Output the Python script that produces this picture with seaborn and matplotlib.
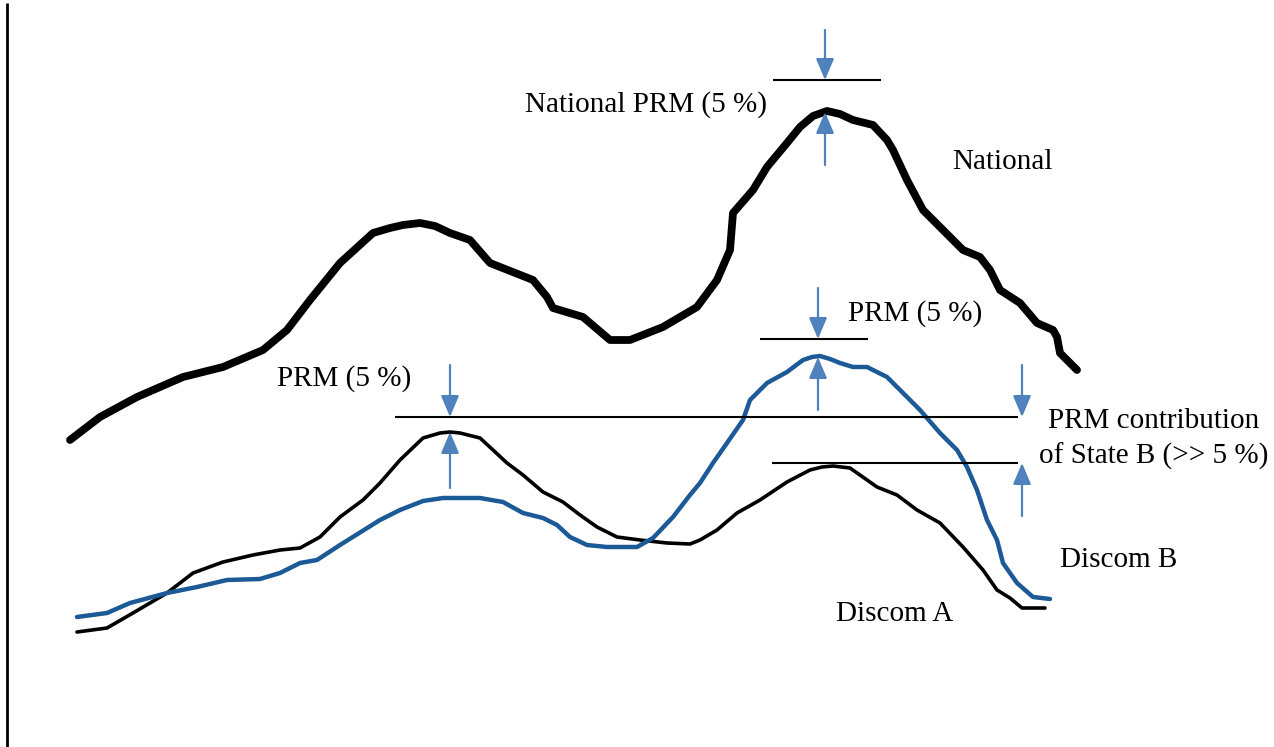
import numpy as np
import pandas as pd
import matplotlib
matplotlib.use('Agg')
import matplotlib.pyplot as plt
import seaborn as sns

# Schematic load curves (x = time, y = drawing height, top = 0)
national_x = [70, 100, 137, 183, 223, 263, 287, 310, 340, 373, 390, 403, 420, 435, 450, 470, 490,
              533, 547, 553, 583, 610, 630, 663, 697, 717, 730, 733, 753, 767, 787, 800, 813, 827,
              840, 853, 873, 887, 893, 907, 923, 943, 963, 980, 990, 1000, 1020, 1037, 1053, 1057,
              1060, 1070, 1077]
national_y = [440, 417, 397, 377, 367, 350, 330, 300, 263, 233, 228, 225, 223, 226, 233, 240, 263,
              280, 297, 308, 317, 340, 340, 327, 307, 280, 250, 213, 190, 167, 143, 127, 116, 111,
              114, 120, 125, 140, 150, 180, 210, 230, 250, 257, 270, 290, 303, 323, 330, 337,
              353, 363, 370]

discom_a_x = [77, 107, 133, 167, 193, 223, 253, 280, 300, 320, 340, 363, 380, 400, 423, 440, 450,
              460, 480, 493, 507, 523, 543, 563, 580, 597, 617, 640, 667, 690, 700, 717, 737, 760,
              787, 810, 822, 833, 850, 877, 897, 917, 940, 963, 983, 997, 1010, 1022, 1045]
discom_a_y = [632, 628, 613, 593, 573, 562, 555, 550, 548, 537, 517, 500, 483, 460, 438, 433, 432,
              433, 438, 450, 463, 475, 492, 502, 515, 527, 537, 540, 543, 544, 540, 530, 513, 500,
              482, 470, 467, 466, 468, 487, 495, 510, 523, 547, 570, 590, 598, 608, 608]

discom_b_x = [77, 107, 130, 167, 197, 227, 260, 280, 300, 317, 340, 380, 400, 423, 443, 480, 503,
              523, 543, 557, 570, 587, 607, 637, 653, 673, 690, 700, 713, 727, 743, 750, 767, 787,
              803, 812, 820, 830, 840, 853, 867, 887, 900, 920, 940, 957, 967, 977, 987, 997, 1003,
              1017, 1033, 1050]
discom_b_y = [617, 613, 603, 593, 587, 580, 579, 573, 563, 560, 545, 520, 510, 501, 498, 498, 502,
              513, 518, 525, 537, 545, 547, 547, 538, 517, 495, 483, 463, 443, 420, 400, 383, 372,
              360, 357, 356, 359, 363, 367, 367, 377, 390, 410, 433, 450, 467, 490, 520, 540, 563,
              583, 597, 599]

# Reference levels (y) and their extents
level_y = [80, 339, 417, 463]
level_x0 = [773, 760, 395, 772]
level_x1 = [881, 868, 1018, 1018]

# PRM arrows: x, tail of down arrow, head of down arrow, tail of up arrow, head of up arrow
arrow_x = [825, 818, 450, 1022]
down_from = [30, 288, 365, 365]
down_to = [80, 339, 417, 417]
up_from = [165, 410, 488, 516]
up_to = [112, 357, 432, 463]

labels = ['National PRM (5 %)', 'National', 'PRM (5 %)', 'PRM (5 %)',
          'PRM contribution\nof State B (>> 5 %)', 'Discom B', 'Discom A']

sns.set_style('white')
plt.rcParams['font.family'] = ['Liberation Serif', 'DejaVu Serif']

fig = plt.figure(figsize=(12.74, 7.47), dpi=100)
ax = fig.add_axes([0, 0, 1, 1])

sns.lineplot(x=national_x, y=national_y, sort=False, estimator=None, color='black',
             linewidth=5.6, ax=ax, solid_capstyle='round', solid_joinstyle='round')
sns.lineplot(x=discom_a_x, y=discom_a_y, sort=False, estimator=None, color='black',
             linewidth=2.6, ax=ax, solid_joinstyle='round')
sns.lineplot(x=discom_b_x, y=discom_b_y, sort=False, estimator=None, color='#1b5a96',
             linewidth=3.2, ax=ax, solid_joinstyle='round')

ax.hlines(level_y, level_x0, level_x1, color='black', linewidth=1.5)

arrow_col = '#4f81bd'
for x, a0, a1, b0, b1 in zip(arrow_x, down_from, down_to, up_from, up_to):
    for y0, y1 in [(a0, a1), (b0, b1)]:
        ax.annotate('', xy=(x, y1), xytext=(x, y0),
                    arrowprops=dict(arrowstyle='-|>,head_length=1.3,head_width=0.55',
                                    color=arrow_col, lw=1.6, shrinkA=0, shrinkB=0))

# left border line
ax.vlines(7, 3, 747, color='black', linewidth=2)

fs = 21
tc = 'black'
ax.text(525, 105, labels[0], fontsize=fs, ha='left', va='center', color=tc)
ax.text(952, 162, labels[1], fontsize=fs, ha='left', va='center', color=tc)
ax.text(848, 314, labels[2], fontsize=fs, ha='left', va='center', color=tc)
ax.text(277, 379, labels[3], fontsize=fs, ha='left', va='center', color=tc)
ax.text(1154, 439, labels[4], fontsize=fs, ha='center', va='center', linespacing=1.38, color=tc)
ax.text(1060, 560, labels[5], fontsize=fs, ha='left', va='center', color=tc)
ax.text(836, 614, labels[6], fontsize=fs, ha='left', va='center', color=tc)

ax.set_xlim(0, 1274)
ax.set_ylim(747, 0)
ax.axis('off')

fig.savefig('out.png', dpi=100)
